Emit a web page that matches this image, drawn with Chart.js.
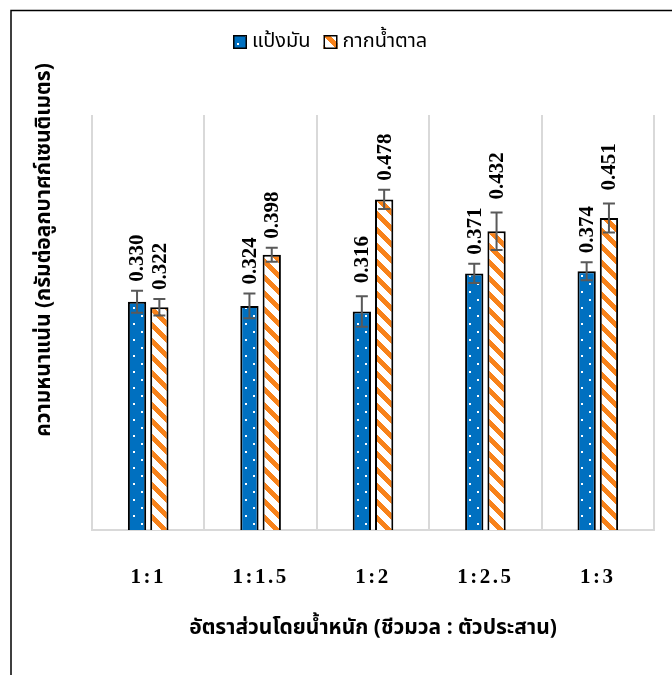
<!DOCTYPE html>
<html>
<head>
<meta charset="utf-8">
<script src="https://cdn.jsdelivr.net/npm/chart.js@4.4.1/dist/chart.umd.min.js"></script>
<style>
  html, body { margin: 0; padding: 0; background: #fff; }
  #wrap { width: 672px; height: 675px; position: relative; }
</style>
</head>
<body>
<div id="wrap"><canvas id="c" width="672" height="675"></canvas></div>
<script>
// Binder ratio (biomass : binder) on the category axis
const ratios = ['1:1', '1:1.5', '1:2', '1:2.5', '1:3'];

// Series names
const starchLabel = 'แป้งมัน';
const molassesLabel = 'กากน้ำตาล';

// Bulk density (g/cm3) and standard deviation per ratio
const starchDensity = [0.330, 0.324, 0.316, 0.371, 0.374];
const starchError = [0.016, 0.018, 0.022, 0.014, 0.013];
const molassesDensity = [0.322, 0.398, 0.478, 0.432, 0.451];
const molassesError = [0.012, 0.010, 0.014, 0.027, 0.021];

// Axis titles
const xTitle = 'อัตราส่วนโดยน้ำหนัก (ชีวมวล : ตัวประสาน)';
const yTitle = 'ความหนาแน่น (กรัมต่อลูกบาศก์เซนติเมตร)';

const THAI = '"Noto Sans Thai", "Noto Serif Thai", "TH Sarabun New", "Loma", "Garuda", "Tlwg Typo", "DejaVu Sans", sans-serif';
const SERIF = '"Liberation Serif", "Times New Roman", serif';

const canvas = document.getElementById('c');
const ctx = canvas.getContext('2d');

// Blue fill with a sparse grid of white dots
function dottedFill() {
  const t = document.createElement('canvas');
  t.width = 16; t.height = 16;
  const g = t.getContext('2d');
  g.fillStyle = '#0070C0';
  g.fillRect(0, 0, 16, 16);
  g.fillStyle = '#ffffff';
  g.fillRect(5, 3, 2, 2);
  g.fillRect(13, 11, 2, 2);
  return ctx.createPattern(t, 'repeat');
}

// White fill with wide orange downward diagonals
function stripedFill() {
  const t = document.createElement('canvas');
  t.width = 16; t.height = 16;
  const g = t.getContext('2d');
  g.fillStyle = '#ffffff';
  g.fillRect(0, 0, 16, 16);
  g.fillStyle = '#F8821A';
  for (let y = 0; y < 16; y++) {
    for (let x = 0; x < 16; x++) {
      if ((((x - y) % 16) + 16) % 16 < 7) g.fillRect(x, y, 1, 1);
    }
  }
  return ctx.createPattern(t, 'repeat');
}

const errors = [starchError, molassesError];

// Page background and the frame line on the left and top
const framePlugin = {
  id: 'frame',
  beforeDraw(chart) {
    const c = chart.ctx;
    c.save();
    c.fillStyle = '#ffffff';
    c.fillRect(0, 0, chart.width, chart.height);
    c.strokeStyle = '#000000';
    c.lineWidth = 1.5;
    c.beginPath();
    c.moveTo(11, chart.height);
    c.lineTo(11, 10.5);
    c.lineTo(chart.width, 10.5);
    c.stroke();
    c.restore();
  }
};

// Wider spacing between the characters of the ratio labels
const tickSpacingPlugin = {
  id: 'tickSpacing',
  beforeDraw(chart) {
    const s = chart.scales.x;
    if (s && !s._spaced) {
      const orig = s.drawLabels;
      s.drawLabels = function (area) {
        this.ctx.save();
        this.ctx.letterSpacing = '2.5px';
        orig.call(this, area);
        this.ctx.restore();
      };
      s._spaced = true;
    }
  }
};

// Standard deviation whiskers and rotated value labels above each bar
const errorBarPlugin = {
  id: 'errorBars',
  afterDatasetsDraw(chart) {
    const c = chart.ctx;
    const yScale = chart.scales.y;
    c.save();
    chart.data.datasets.forEach((ds, di) => {
      const meta = chart.getDatasetMeta(di);
      meta.data.forEach((bar, i) => {
        const v = ds.data[i];
        const e = errors[di][i];
        const yTop = yScale.getPixelForValue(v + e);
        const yBot = yScale.getPixelForValue(v - e);
        c.strokeStyle = '#595959';
        c.lineWidth = 2;
        c.beginPath();
        c.moveTo(bar.x, yTop); c.lineTo(bar.x, yBot);
        c.moveTo(bar.x - 6, yTop); c.lineTo(bar.x + 6, yTop);
        c.moveTo(bar.x - 6, yBot); c.lineTo(bar.x + 6, yBot);
        c.stroke();
      });
    });
    chart.data.datasets.forEach((ds, di) => {
      const meta = chart.getDatasetMeta(di);
      meta.data.forEach((bar, i) => {
        const v = ds.data[i];
        const e = errors[di][i];
        const errTop = yScale.getPixelForValue(v + e);
        // keep clear of the whisker; wider whiskers get a little more room
        const start = Math.min(bar.y - 16, errTop - 9 - (e > 0.02 ? 4 : 0));
        c.save();
        c.translate(bar.x, start);
        c.rotate(-Math.PI / 2);
        c.fillStyle = '#000000';
        c.font = 'bold 21px ' + SERIF;
        c.textAlign = 'left';
        c.textBaseline = 'middle';
        c.fillText(v.toFixed(3), 0, 1);
        c.restore();
      });
    });
    c.restore();
  }
};

// Series key and the vertical axis title
const keyPlugin = {
  id: 'seriesKey',
  afterDraw(chart) {
    const c = chart.ctx;
    c.save();
    c.font = '20px ' + THAI;
    c.textBaseline = 'middle';
    c.textAlign = 'left';
    let x = 233;
    const cy = 42;
    chart.data.datasets.forEach((ds) => {
      c.fillStyle = ds.backgroundColor;
      c.fillRect(x, cy - 7, 14, 14);
      c.strokeStyle = '#000000';
      c.lineWidth = 1.5;
      c.strokeRect(x + 0.75, cy - 6.25, 12.5, 12.5);
      c.fillStyle = '#000000';
      c.fillText(ds.label, x + 19, cy + 1);
      x += 19 + c.measureText(ds.label).width + 13;
    });

    c.translate(46, 250);
    c.rotate(-Math.PI / 2);
    c.font = 'bold 21px ' + THAI;
    c.textAlign = 'center';
    c.fillText(yTitle, 0, 0);
    c.restore();
  }
};

new Chart(canvas, {
  type: 'bar',
  data: {
    labels: ratios,
    datasets: [
      {
        label: starchLabel,
        data: starchDensity,
        backgroundColor: dottedFill(),
        borderColor: '#000000',
        borderWidth: 2,
        categoryPercentage: 0.397,
        barPercentage: 0.82
      },
      {
        label: molassesLabel,
        data: molassesDensity,
        backgroundColor: stripedFill(),
        borderColor: '#000000',
        borderWidth: 2,
        categoryPercentage: 0.397,
        barPercentage: 0.82
      }
    ]
  },
  options: {
    responsive: false,
    animation: false,
    events: [],
    layout: { padding: { left: 92, right: 18, top: 115, bottom: 0 } },
    plugins: {
      legend: { display: false },
      tooltip: { enabled: false }
    },
    scales: {
      x: {
        grid: { color: '#d9d9d9', lineWidth: 2, drawTicks: false, offset: true },
        border: { color: '#d9d9d9', width: 2 },
        ticks: {
          color: '#000000',
          padding: 35,
          font: { family: SERIF, size: 21, weight: 'bold' }
        },
        title: {
          display: true,
          text: xTitle,
          color: '#000000',
          font: { family: THAI, size: 21, weight: 'bold' },
          padding: { top: 27, bottom: 33 }
        },
        afterFit(scale) { scale.height = 145; }
      },
      y: {
        display: false,
        min: 0,
        max: 0.6
      }
    }
  },
  plugins: [framePlugin, tickSpacingPlugin, errorBarPlugin, keyPlugin]
});
</script>
</body>
</html>
